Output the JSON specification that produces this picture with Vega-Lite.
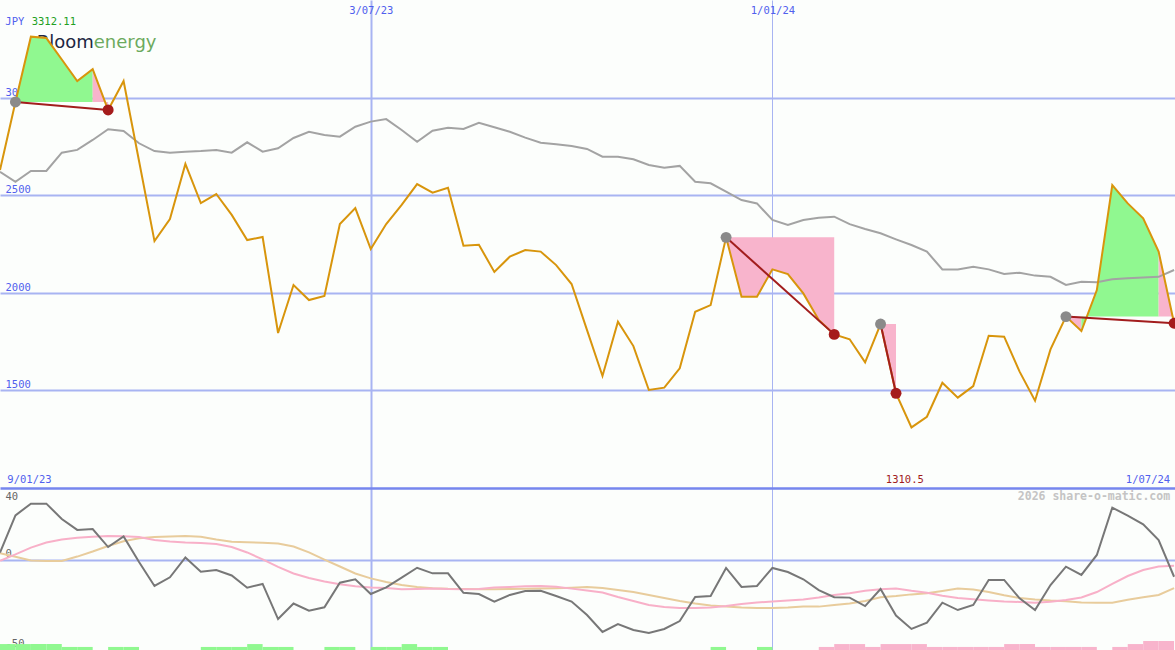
{
  "$schema": "https://vega.github.io/schema/vega-lite/v6.json",
  "background": "#fcfefc",
  "padding": 0,
  "autosize": {"type": "pad"},
  "spacing": 0,
  "bounds": "flush",
  "config": {"view": {"stroke": null}, "axis": {"title": null}},
  "datasets": {
    "w": [
      {"d":"2023-01-16","p":2629,"ma":2620,"o":4.1,"pk":-0.4,"tn":3.7},
      {"d":"2023-01-23","p":2977.5,"ma":2569,"o":24.8,"pk":3.1,"tn":1.8},
      {"d":"2023-01-30","p":3312.11,"ma":2624,"o":31.3,"pk":6.9,"tn":-0.3},
      {"d":"2023-02-06","p":3305,"ma":2624,"o":31.3,"pk":9.7,"tn":-0.6},
      {"d":"2023-02-13","p":3195,"ma":2718,"o":22.8,"pk":11.4,"tn":-0.6},
      {"d":"2023-02-20","p":3085,"ma":2732,"o":16.7,"pk":12.4,"tn":1.9},
      {"d":"2023-02-27","p":3146,"ma":2783,"o":17.2,"pk":12.9,"tn":4.7},
      {"d":"2023-03-06","p":2936.5,"ma":2838,"o":7.2,"pk":13.3,"tn":7.8},
      {"d":"2023-03-13","p":3085,"ma":2829,"o":13.1,"pk":13.2,"tn":10.4},
      {"d":"2023-03-20","p":2675,"ma":2766,"o":-1.1,"pk":12.8,"tn":12.1},
      {"d":"2023-03-27","p":2265,"ma":2726,"o":-14.4,"pk":11.1,"tn":12.8},
      {"d":"2023-04-03","p":2378,"ma":2718,"o":-9.6,"pk":10.3,"tn":13.1},
      {"d":"2023-04-10","p":2660,"ma":2723,"o":1.4,"pk":9.7,"tn":13.3},
      {"d":"2023-04-17","p":2460,"ma":2726,"o":-6.5,"pk":9.4,"tn":12.9},
      {"d":"2023-04-24","p":2506,"ma":2732,"o":-5.6,"pk":8.9,"tn":11.4},
      {"d":"2023-05-01","p":2399,"ma":2718,"o":-8.6,"pk":7.2,"tn":10.1},
      {"d":"2023-05-08","p":2270,"ma":2771,"o":-15.4,"pk":4.2,"tn":9.8},
      {"d":"2023-05-15","p":2286,"ma":2723,"o":-13.3,"pk":0.3,"tn":9.6},
      {"d":"2023-05-22","p":1794,"ma":2740,"o":-32.8,"pk":-3.8,"tn":9.2},
      {"d":"2023-05-29","p":2040,"ma":2793,"o":-24.2,"pk":-7.5,"tn":7.5},
      {"d":"2023-06-05","p":1963,"ma":2825,"o":-28.2,"pk":-10,"tn":4.2},
      {"d":"2023-06-12","p":1984,"ma":2808,"o":-26.3,"pk":-11.9,"tn":0.2},
      {"d":"2023-06-19","p":2352,"ma":2800,"o":-12.6,"pk":-13.5,"tn":-3.6},
      {"d":"2023-06-26","p":2434,"ma":2851,"o":-10.7,"pk":-14.6,"tn":-7.5},
      {"d":"2023-07-03","p":2224,"ma":2877,"o":-18.9,"pk":-15.3,"tn":-10.2},
      {"d":"2023-07-10","p":2352,"ma":2890,"o":-15.2,"pk":-15.6,"tn":-12.2},
      {"d":"2023-07-17","p":2450,"ma":2834,"o":-9.8,"pk":-16.3,"tn":-13.9},
      {"d":"2023-07-24","p":2557,"ma":2774,"o":-4.3,"pk":-16.1,"tn":-15},
      {"d":"2023-07-31","p":2513,"ma":2830,"o":-7.4,"pk":-15.8,"tn":-15.7},
      {"d":"2023-08-07","p":2538,"ma":2846,"o":-7.4,"pk":-16.1,"tn":-16},
      {"d":"2023-08-14","p":2241,"ma":2839,"o":-18.2,"pk":-16.2,"tn":-16.1},
      {"d":"2023-08-21","p":2246,"ma":2871,"o":-18.9,"pk":-16.1,"tn":-16.3},
      {"d":"2023-08-28","p":2107,"ma":2848,"o":-23.1,"pk":-15.3,"tn":-16.2},
      {"d":"2023-09-04","p":2185,"ma":2825,"o":-19.4,"pk":-15,"tn":-16.1},
      {"d":"2023-09-11","p":2219,"ma":2795,"o":-17.2,"pk":-14.6,"tn":-16},
      {"d":"2023-09-18","p":2211,"ma":2769,"o":-17.1,"pk":-14.4,"tn":-15.9},
      {"d":"2023-09-25","p":2142,"ma":2761,"o":-20,"pk":-14.8,"tn":-15.7},
      {"d":"2023-10-02","p":2045,"ma":2752,"o":-23.1,"pk":-15.9,"tn":-15.4},
      {"d":"2023-10-09","p":1809,"ma":2737,"o":-30.6,"pk":-16.9,"tn":-15},
      {"d":"2023-10-16","p":1574,"ma":2697,"o":-40,"pk":-18.1,"tn":-15.6},
      {"d":"2023-10-23","p":1852,"ma":2697,"o":-35.6,"pk":-20.6,"tn":-16.7},
      {"d":"2023-10-30","p":1727,"ma":2684,"o":-38.9,"pk":-22.8,"tn":-17.8},
      {"d":"2023-11-06","p":1502,"ma":2655,"o":-40.6,"pk":-25,"tn":-19.4},
      {"d":"2023-11-13","p":1514,"ma":2641,"o":-38.3,"pk":-26.1,"tn":-21.1},
      {"d":"2023-11-20","p":1613,"ma":2650,"o":-33.9,"pk":-26.7,"tn":-22.8},
      {"d":"2023-11-27","p":1903,"ma":2569,"o":-20.6,"pk":-26.7,"tn":-24.2},
      {"d":"2023-12-04","p":1937,"ma":2561,"o":-20,"pk":-26.4,"tn":-25.3},
      {"d":"2023-12-11","p":2284,"ma":2518,"o":-4.4,"pk":-25.6,"tn":-25.8},
      {"d":"2023-12-18","p":1980,"ma":2475,"o":-15,"pk":-24.4,"tn":-26.4},
      {"d":"2023-12-25","p":1980,"ma":2458,"o":-14.4,"pk":-23.6,"tn":-26.6},
      {"d":"2024-01-01","p":2120,"ma":2373,"o":-4.4,"pk":-23.1,"tn":-26.6},
      {"d":"2024-01-08","p":2096,"ma":2347,"o":-6.7,"pk":-22.5,"tn":-26.4},
      {"d":"2024-01-15","p":1997,"ma":2373,"o":-10.7,"pk":-21.9,"tn":-25.9},
      {"d":"2024-01-22","p":1861,"ma":2385,"o":-16.7,"pk":-20.8,"tn":-25.9},
      {"d":"2024-01-29","p":1787,"ma":2390,"o":-20.7,"pk":-19.4,"tn":-25},
      {"d":"2024-02-05","p":1762,"ma":2352,"o":-20.9,"pk":-18.5,"tn":-24.2},
      {"d":"2024-02-12","p":1644,"ma":2327,"o":-25.6,"pk":-17.1,"tn":-22.8},
      {"d":"2024-02-19","p":1840,"ma":2305,"o":-16.1,"pk":-16.3,"tn":-20.7},
      {"d":"2024-02-26","p":1485,"ma":2274,"o":-30.9,"pk":-15.8,"tn":-20},
      {"d":"2024-03-04","p":1310.5,"ma":2245,"o":-38.3,"pk":-17.1,"tn":-19.1},
      {"d":"2024-03-11","p":1365,"ma":2211,"o":-34.8,"pk":-18.2,"tn":-18.5},
      {"d":"2024-03-18","p":1539,"ma":2120,"o":-23.7,"pk":-19.8,"tn":-17.2},
      {"d":"2024-03-25","p":1463,"ma":2120,"o":-27.8,"pk":-21.1,"tn":-15.8},
      {"d":"2024-04-01","p":1522,"ma":2134,"o":-25,"pk":-21.8,"tn":-16.4},
      {"d":"2024-04-08","p":1780,"ma":2120,"o":-11.1,"pk":-22.5,"tn":-17.8},
      {"d":"2024-04-15","p":1775,"ma":2096,"o":-11.1,"pk":-23.1,"tn":-19.6},
      {"d":"2024-04-22","p":1596,"ma":2103,"o":-21.3,"pk":-23.3,"tn":-21.1},
      {"d":"2024-04-29","p":1447,"ma":2088,"o":-27.8,"pk":-23.7,"tn":-21.9},
      {"d":"2024-05-06","p":1710,"ma":2082,"o":-13.9,"pk":-23.2,"tn":-22.5},
      {"d":"2024-05-13","p":1878,"ma":2040,"o":-3.7,"pk":-22.2,"tn":-22.9},
      {"d":"2024-05-20","p":1804,"ma":2057,"o":-8.3,"pk":-20.8,"tn":-23.6},
      {"d":"2024-05-27","p":2014,"ma":2054,"o":2.8,"pk":-17.8,"tn":-23.7},
      {"d":"2024-06-03","p":2552,"ma":2069,"o":29.1,"pk":-13.3,"tn":-23.7},
      {"d":"2024-06-10","p":2458,"ma":2074,"o":24.6,"pk":-8.9,"tn":-22.1},
      {"d":"2024-06-17","p":2382,"ma":2079,"o":19.8,"pk":-5.6,"tn":-20.7},
      {"d":"2024-06-24","p":2211,"ma":2082,"o":11.1,"pk":-3.6,"tn":-19.4},
      {"d":"2024-07-01","p":1844,"ma":2117,"o":-9.3,"pk":-3.2,"tn":-15.6}
    ],
    "fill": [
      {"g":"a1","c":"up","d":"2023-01-23","p":2977.5,"lv":2977.5},
      {"g":"a1","c":"up","d":"2023-01-30","p":3312.11,"lv":2977.5},
      {"g":"a1","c":"up","d":"2023-02-06","p":3305,"lv":2977.5},
      {"g":"a1","c":"up","d":"2023-02-13","p":3195,"lv":2977.5},
      {"g":"a1","c":"up","d":"2023-02-20","p":3085,"lv":2977.5},
      {"g":"a1","c":"up","d":"2023-02-27","p":3146,"lv":2977.5},
      {"g":"a2","c":"down","d":"2023-02-27","p":3146,"lv":2977.5},
      {"g":"a2","c":"down","d":"2023-03-06","p":2936.5,"lv":2977.5},
      {"g":"b","c":"down","d":"2023-12-11","p":2284,"lv":2284},
      {"g":"b","c":"down","d":"2023-12-18","p":1980,"lv":2284},
      {"g":"b","c":"down","d":"2023-12-25","p":1980,"lv":2284},
      {"g":"b","c":"down","d":"2024-01-01","p":2120,"lv":2284},
      {"g":"b","c":"down","d":"2024-01-08","p":2096,"lv":2284},
      {"g":"b","c":"down","d":"2024-01-15","p":1997,"lv":2284},
      {"g":"b","c":"down","d":"2024-01-22","p":1861,"lv":2284},
      {"g":"b","c":"down","d":"2024-01-29","p":1787,"lv":2284},
      {"g":"c","c":"down","d":"2024-02-19","p":1840,"lv":1840},
      {"g":"c","c":"down","d":"2024-02-26","p":1485,"lv":1840},
      {"g":"d1","c":"down","d":"2024-05-13","p":1878,"lv":1878},
      {"g":"d1","c":"down","d":"2024-05-20","p":1804,"lv":1878},
      {"g":"d2","c":"up","d":"2024-05-20","p":1804,"lv":1878},
      {"g":"d2","c":"up","d":"2024-05-27","p":2014,"lv":1878},
      {"g":"d2","c":"up","d":"2024-06-03","p":2552,"lv":1878},
      {"g":"d2","c":"up","d":"2024-06-10","p":2458,"lv":1878},
      {"g":"d2","c":"up","d":"2024-06-17","p":2382,"lv":1878},
      {"g":"d2","c":"up","d":"2024-06-24","p":2211,"lv":1878},
      {"g":"d3","c":"down","d":"2024-06-24","p":2211,"lv":1878},
      {"g":"d3","c":"down","d":"2024-07-01","p":1844,"lv":1878}
    ],
    "trend": [
      {"g":"a","d":"2023-01-23","v":2977.5,"e":"start"},
      {"g":"a","d":"2023-03-06","v":2936.5,"e":"end"},
      {"g":"b","d":"2023-12-11","v":2284,"e":"start"},
      {"g":"b","d":"2024-01-29","v":1787,"e":"end"},
      {"g":"c","d":"2024-02-19","v":1840,"e":"start"},
      {"g":"c","d":"2024-02-26","v":1485,"e":"end"},
      {"g":"d","d":"2024-05-13","v":1878,"e":"start"},
      {"g":"d","d":"2024-07-01","v":1844,"e":"end"}
    ],
    "bars": [
      {"d":"2023-01-16","d2":"2023-01-23","h":-46.7,"s":"up"},
      {"d":"2023-01-23","d2":"2023-01-30","h":-46.7,"s":"up"},
      {"d":"2023-01-30","d2":"2023-02-06","h":-46.7,"s":"up"},
      {"d":"2023-02-06","d2":"2023-02-13","h":-46.7,"s":"up"},
      {"d":"2023-02-13","d2":"2023-02-20","h":-48.3,"s":"up"},
      {"d":"2023-02-20","d2":"2023-02-27","h":-48.3,"s":"up"},
      {"d":"2023-03-06","d2":"2023-03-13","h":-48.3,"s":"up"},
      {"d":"2023-03-13","d2":"2023-03-20","h":-48.3,"s":"up"},
      {"d":"2023-04-17","d2":"2023-04-24","h":-48.3,"s":"up"},
      {"d":"2023-04-24","d2":"2023-05-01","h":-48.3,"s":"up"},
      {"d":"2023-05-01","d2":"2023-05-08","h":-48.3,"s":"up"},
      {"d":"2023-05-08","d2":"2023-05-15","h":-46.7,"s":"up"},
      {"d":"2023-05-15","d2":"2023-05-22","h":-48.3,"s":"up"},
      {"d":"2023-05-22","d2":"2023-05-29","h":-48.3,"s":"up"},
      {"d":"2023-06-12","d2":"2023-06-19","h":-48.3,"s":"up"},
      {"d":"2023-06-19","d2":"2023-06-26","h":-48.3,"s":"up"},
      {"d":"2023-07-03","d2":"2023-07-10","h":-48.3,"s":"up"},
      {"d":"2023-07-10","d2":"2023-07-17","h":-48.3,"s":"up"},
      {"d":"2023-07-17","d2":"2023-07-24","h":-46.7,"s":"up"},
      {"d":"2023-07-24","d2":"2023-07-31","h":-48.3,"s":"up"},
      {"d":"2023-07-31","d2":"2023-08-07","h":-48.3,"s":"up"},
      {"d":"2023-12-04","d2":"2023-12-11","h":-48.3,"s":"up"},
      {"d":"2023-12-25","d2":"2024-01-01","h":-48.3,"s":"up"},
      {"d":"2024-01-22","d2":"2024-01-29","h":-48.3,"s":"down"},
      {"d":"2024-01-29","d2":"2024-02-05","h":-46.7,"s":"down"},
      {"d":"2024-02-05","d2":"2024-02-12","h":-46.7,"s":"down"},
      {"d":"2024-02-12","d2":"2024-02-19","h":-48.3,"s":"down"},
      {"d":"2024-02-19","d2":"2024-02-26","h":-46.7,"s":"down"},
      {"d":"2024-02-26","d2":"2024-03-04","h":-46.7,"s":"down"},
      {"d":"2024-03-04","d2":"2024-03-11","h":-46.7,"s":"down"},
      {"d":"2024-03-11","d2":"2024-03-18","h":-48.3,"s":"down"},
      {"d":"2024-03-18","d2":"2024-03-25","h":-48.3,"s":"down"},
      {"d":"2024-03-25","d2":"2024-04-01","h":-48.3,"s":"down"},
      {"d":"2024-04-01","d2":"2024-04-08","h":-48.3,"s":"down"},
      {"d":"2024-04-08","d2":"2024-04-15","h":-48.3,"s":"down"},
      {"d":"2024-04-15","d2":"2024-04-22","h":-46.7,"s":"down"},
      {"d":"2024-04-22","d2":"2024-04-29","h":-46.7,"s":"down"},
      {"d":"2024-04-29","d2":"2024-05-06","h":-48.3,"s":"down"},
      {"d":"2024-05-06","d2":"2024-05-13","h":-48.3,"s":"down"},
      {"d":"2024-05-13","d2":"2024-05-20","h":-48.3,"s":"down"},
      {"d":"2024-05-20","d2":"2024-05-27","h":-48.3,"s":"down"},
      {"d":"2024-06-03","d2":"2024-06-10","h":-48.3,"s":"down"},
      {"d":"2024-06-10","d2":"2024-06-17","h":-46.7,"s":"down"},
      {"d":"2024-06-17","d2":"2024-06-24","h":-45,"s":"down"},
      {"d":"2024-06-24","d2":"2024-07-01","h":-45,"s":"down"}
    ]
  },
  "vconcat": [
    {
      "width": 1175,
      "height": 488,
      "encoding": {
        "x": {
          "field": "d", "type": "temporal",
          "scale": {"type": "utc", "domain": [1673827200000, 1719828000000]},
          "axis": {
            "orient": "top",
            "values": [{"year": 2023, "month": 7, "date": 3, "utc": true}, {"year": 2024, "month": 1, "date": 1, "utc": true}],
            "labelExpr": "utcFormat(datum.value, '%-d/%m/%y')",
            "grid": true, "gridColor": "#a8b4f2",
            "gridWidth": {"condition": {"test": "utcyear(datum.value) == 2023", "value": 2}, "value": 1},
            "ticks": false, "tickSize": 0, "domain": false,
            "labelPadding": -13.5, "labelBaseline": "alphabetic", "labelAlign": "center",
            "labelColor": "#5060ee", "labelFont": "DejaVu Sans Mono", "labelFontSize": 10.5,
            "labelOverlap": false, "labelBound": false, "labelFlush": false, "title": null, "zindex": 0
          }
        },
        "y": {
          "field": "v", "type": "quantitative",
          "scale": {"domain": [1000, 3500], "nice": false, "zero": false},
          "axis": {
            "values": [1500, 2000, 2500, 3000],
            "labelExpr": "'' + datum.value",
            "grid": true, "gridColor": "#a8b4f2", "gridWidth": 2,
            "ticks": false, "tickSize": 0, "domain": false,
            "labelAlign": "left", "labelPadding": -5, "labelBaseline": "alphabetic", "labelOffset": -2.5,
            "labelColor": "#5060ee", "labelFont": "DejaVu Sans Mono", "labelFontSize": 10.5,
            "labelOverlap": false, "labelBound": false, "labelFlush": false, "title": null, "zindex": 0
          }
        }
      },
      "layer": [
        {
          "data": {"values": [{"d": "2023-02-27T11:30:00Z", "v": 3256, "t": "Bloom"}]},
          "mark": {"type": "text", "align": "right", "baseline": "alphabetic", "font": "DejaVu Sans", "fontSize": 18, "color": "#1d2742"},
          "encoding": {"text": {"field": "t"}}
        },
        {
          "data": {"values": [{"d": "2023-02-27T11:30:00Z", "v": 3256, "t": "energy"}]},
          "mark": {"type": "text", "align": "left", "baseline": "alphabetic", "font": "DejaVu Sans", "fontSize": 18, "color": "#6caa5e"},
          "encoding": {"text": {"field": "t"}}
        },
        {
          "data": {"name": "fill"},
          "mark": {"type": "area", "clip": true},
          "encoding": {
            "y": {"field": "p", "type": "quantitative", "scale": {"domain": [1000, 3500], "nice": false, "zero": false}},
            "y2": {"field": "lv"},
            "color": {"field": "c", "type": "nominal", "scale": {"domain": ["up", "down"], "range": ["#90f890", "#f8b4cc"]}, "legend": null},
            "detail": {"field": "g"}
          }
        },
        {
          "data": {"name": "w"},
          "mark": {"type": "line", "color": "#a3a3a3", "strokeWidth": 2, "clip": true},
          "encoding": {"y": {"field": "ma", "type": "quantitative", "scale": {"domain": [1000, 3500], "nice": false, "zero": false}}}
        },
        {
          "data": {"name": "w"},
          "mark": {"type": "line", "color": "#d8950c", "strokeWidth": 2, "clip": true},
          "encoding": {"y": {"field": "p", "type": "quantitative", "scale": {"domain": [1000, 3500], "nice": false, "zero": false}}}
        },
        {
          "data": {"name": "trend"},
          "mark": {"type": "line", "color": "#a21d1d", "strokeWidth": 2, "clip": true},
          "encoding": {"detail": {"field": "g"}}
        },
        {
          "data": {"name": "trend"},
          "mark": {"type": "circle", "size": 120, "opacity": 1, "clip": true},
          "encoding": {
            "fill": {"field": "e", "type": "nominal", "scale": {"domain": ["start", "end"], "range": ["#8a8a8a", "#a51c1c"]}, "legend": null}
          }
        },
        {
          "data": {"values": [{"d": "2023-01-18T10:00:00Z", "v": 3372, "t": "JPY"}]},
          "mark": {"type": "text", "align": "left", "baseline": "alphabetic", "font": "DejaVu Sans Mono", "fontSize": 10.5, "color": "#5060ee"},
          "encoding": {"text": {"field": "t"}}
        },
        {
          "data": {"values": [{"d": "2023-01-30T09:00:00Z", "v": 3372, "t": "3312.11"}]},
          "mark": {"type": "text", "align": "left", "baseline": "alphabetic", "font": "DejaVu Sans Mono", "fontSize": 10.5, "color": "#22a022"},
          "encoding": {"text": {"field": "t"}}
        },
        {
          "data": {"values": [{"d": "2023-01-19T08:00:00Z", "v": 1024, "t": "9/01/23"}]},
          "mark": {"type": "text", "align": "left", "baseline": "alphabetic", "font": "DejaVu Sans Mono", "fontSize": 10.5, "color": "#5060ee"},
          "encoding": {"text": {"field": "t"}}
        },
        {
          "data": {"values": [{"d": "2024-06-29T05:00:00Z", "v": 1024, "t": "1/07/24"}]},
          "mark": {"type": "text", "align": "right", "baseline": "alphabetic", "font": "DejaVu Sans Mono", "fontSize": 10.5, "color": "#5060ee"},
          "encoding": {"text": {"field": "t"}}
        },
        {
          "data": {"values": [{"d": "2024-03-01T00:00:00Z", "v": 1024, "t": "1310.5"}]},
          "mark": {"type": "text", "align": "center", "baseline": "alphabetic", "font": "DejaVu Sans Mono", "fontSize": 10.5, "color": "#a01c1c"},
          "encoding": {"text": {"field": "t"}}
        }
      ]
    },
    {
      "width": 1175,
      "height": 162,
      "encoding": {
        "x": {
          "field": "d", "type": "temporal",
          "scale": {"type": "utc", "domain": [1673827200000, 1719828000000]},
          "axis": {
            "orient": "top",
            "values": [{"year": 2023, "month": 7, "date": 3, "utc": true}, {"year": 2024, "month": 1, "date": 1, "utc": true}],
            "labels": false,
            "grid": true, "gridColor": "#a8b4f2",
            "gridWidth": {"condition": {"test": "utcyear(datum.value) == 2023", "value": 2}, "value": 1},
            "ticks": false, "tickSize": 0,
            "domain": true, "domainColor": "#7686ee", "domainWidth": 2.5,
            "title": null, "zindex": 0
          }
        },
        "y": {
          "field": "v", "type": "quantitative",
          "scale": {"domain": [-50, 40], "nice": false, "zero": false},
          "axis": {
            "values": [40, 0, -50],
            "labelExpr": "'' + datum.value",
            "grid": true, "gridColor": "#a8b4f2", "gridWidth": 2,
            "gridOpacity": {"condition": {"test": "datum.value == 0", "value": 1}, "value": 0},
            "ticks": false, "tickSize": 0, "domain": false,
            "labelAlign": "left", "labelPadding": -5, "labelBaseline": "alphabetic",
            "labelOffset": {"condition": {"test": "datum.value == 40", "value": 11.5}, "value": -4},
            "labelColor": "#666666", "labelFont": "DejaVu Sans Mono", "labelFontSize": 10.5,
            "labelOverlap": false, "labelBound": false, "labelFlush": false, "title": null, "zindex": 0
          }
        }
      },
      "layer": [
        {
          "data": {"name": "bars"},
          "mark": {"type": "rect", "clip": true},
          "encoding": {
            "x2": {"field": "d2"},
            "y": {"field": "h", "type": "quantitative", "scale": {"domain": [-50, 40], "nice": false, "zero": false}},
            "y2": {"datum": -50},
            "color": {"field": "s", "type": "nominal", "scale": {"domain": ["up", "down"], "range": ["#90f890", "#f8b4cc"]}, "legend": null}
          }
        },
        {
          "data": {"name": "w"},
          "mark": {"type": "line", "color": "#e8cc9c", "strokeWidth": 2, "clip": true},
          "encoding": {"y": {"field": "tn", "type": "quantitative", "scale": {"domain": [-50, 40], "nice": false, "zero": false}}}
        },
        {
          "data": {"name": "w"},
          "mark": {"type": "line", "color": "#f8b0c8", "strokeWidth": 2, "clip": true},
          "encoding": {"y": {"field": "pk", "type": "quantitative", "scale": {"domain": [-50, 40], "nice": false, "zero": false}}}
        },
        {
          "data": {"name": "w"},
          "mark": {"type": "line", "color": "#777777", "strokeWidth": 2, "clip": true},
          "encoding": {"y": {"field": "o", "type": "quantitative", "scale": {"domain": [-50, 40], "nice": false, "zero": false}}}
        },
        {
          "data": {"values": [{"d": "2024-06-29T05:00:00Z", "v": 33.6, "t": "2026 share-o-matic.com"}]},
          "mark": {"type": "text", "align": "right", "baseline": "alphabetic", "font": "DejaVu Sans Mono", "fontSize": 11.5, "fontWeight": "bold", "color": "#c4c4c4"},
          "encoding": {"text": {"field": "t"}}
        }
      ]
    }
  ]
}
